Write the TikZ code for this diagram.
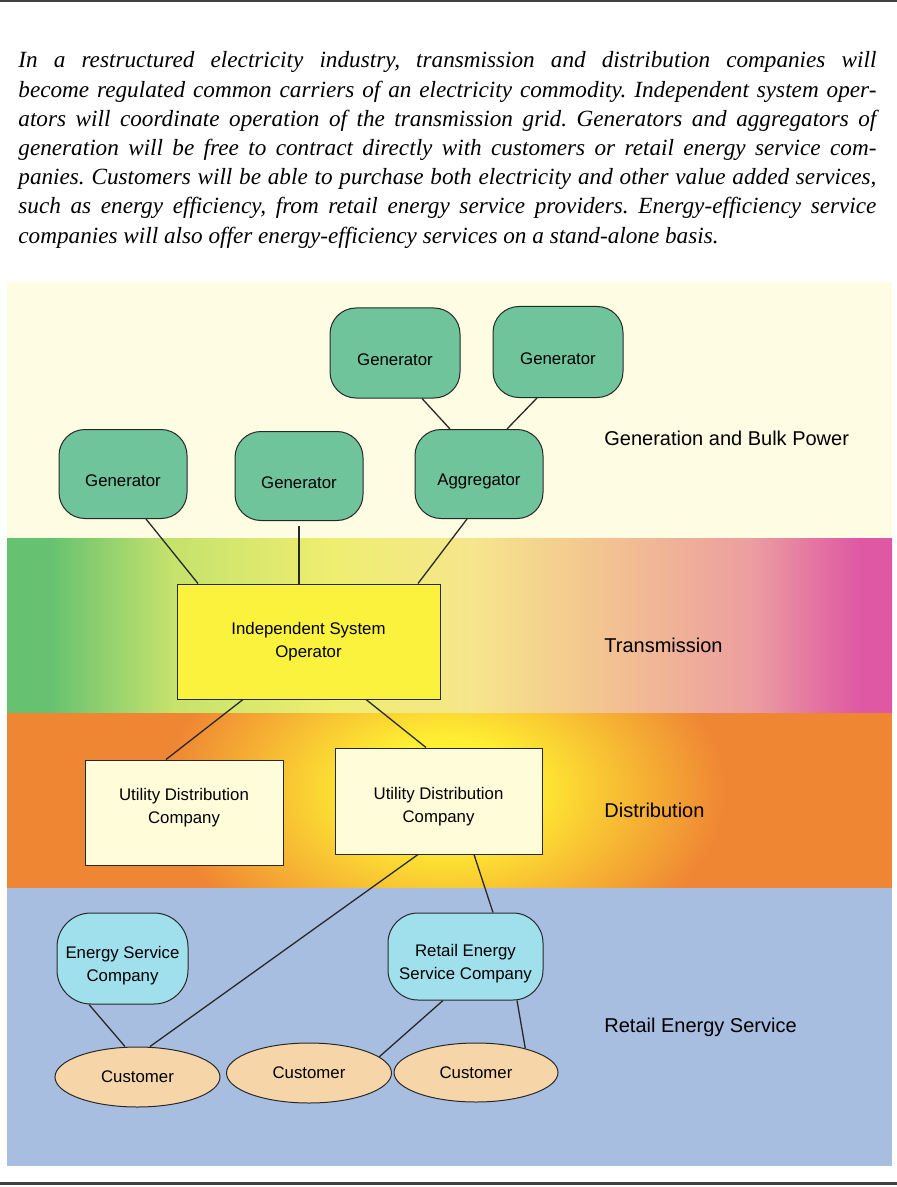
\documentclass[tikz,border=0pt]{standalone}
\usepackage{fontspec}
\setmainfont{Liberation Serif}
\setsansfont{Liberation Sans}
\usetikzlibrary{shapes.geometric,calc}

% colours of the bands and boxes
\definecolor{genband}{RGB}{254,252,226}
\definecolor{retailblue}{RGB}{168,190,224}
\definecolor{distorange}{RGB}{239,134,52}
\definecolor{distyellow}{RGB}{255,240,50}
\definecolor{tgreen}{RGB}{102,194,112}
\definecolor{tlime}{RGB}{196,226,108}
\definecolor{tyellow}{RGB}{238,238,112}
\definecolor{tpale}{RGB}{246,230,140}
\definecolor{tpeach}{RGB}{243,196,144}
\definecolor{tpink}{RGB}{236,158,160}
\definecolor{tmag}{RGB}{222,88,164}
\definecolor{gengreen}{RGB}{112,196,156}
\definecolor{isoyellow}{RGB}{250,242,60}
\definecolor{udccream}{RGB}{255,252,218}
\definecolor{servcyan}{RGB}{160,224,236}
\definecolor{custpeach}{RGB}{246,214,168}
\definecolor{nodeline}{RGB}{40,40,40}

\pgfdeclarehorizontalshading{transshade}{100bp}{color(0bp)=(tgreen); color(27.4bp)=(tgreen);
  color(34.2bp)=(tlime); color(43.3bp)=(tyellow); color(51.2bp)=(tpale); color(58.5bp)=(tpeach);
  color(67bp)=(tpink); color(73.2bp)=(tmag); color(100bp)=(tmag)}
\pgfdeclareradialshading{glowshade}{\pgfpoint{0bp}{0bp}}{color(0bp)=(distyellow); color(7bp)=(distyellow);
  color(25bp)=(distorange); color(50bp)=(distorange)}

\newcommand\diagfont{\sffamily\fontsize{8.4}{11.5}\selectfont}
\newcommand\bandfont{\sffamily\fontsize{10}{12}\selectfont}
\newcommand\parafont{\itshape\fontsize{11.6}{14.6}\selectfont}

\tikzset{
  gennode/.style={draw=nodeline, line width=0.5pt, fill=gengreen, rounded corners=13pt,
    minimum width=64pt, minimum height=44.5pt, inner sep=0pt, font=\diagfont,
    execute at begin node=\rule{0pt}{13pt}},
  plainbox/.style={draw=nodeline, line width=0.5pt, align=center, inner sep=0pt, font=\diagfont},
  servnode/.style={draw=nodeline, line width=0.5pt, fill=servcyan, align=center, inner sep=0pt, font=\diagfont},
  custnode/.style={ellipse, draw=nodeline, line width=0.5pt, fill=custpeach, minimum width=82.5pt,
    minimum height=30pt, inner sep=0pt, font=\diagfont},
  bandlabel/.style={anchor=west, inner sep=0pt, font=\bandfont},
  paraline/.style={anchor=base west, inner sep=0pt, font=\parafont},
  link/.style={draw=nodeline, line width=0.65pt}
}

\begin{document}
\frenchspacing
\begin{tikzpicture}[x=0.5pt,y=-0.5pt]
\useasboundingbox (0,0) rectangle (897,1187);
\fill[white] (0,0) rectangle (897,1187);
\draw[line width=1.5pt, black!75] (0,1) -- (897,1);
\draw[line width=1.5pt, black!75] (0,1183) -- (897,1183);

% text above the diagram
\foreach \txt [count=\i from 0] in {
  {In a restructured electricity industry, transmission and distribution companies will},
  {become regulated common carriers of an electricity commodity. Independent system oper-},
  {ators will coordinate operation of the transmission grid. Generators and aggregators of},
  {generation will be free to contract directly with customers or retail energy service com-},
  {panies. Customers will be able to purchase both electricity and other value added services,},
  {such as energy efficiency, from retail energy service providers. Energy-efficiency service}}
  \node[paraline] (line\i) at (18,{68+29.2*\i}) {\makebox[429pt][s]{\txt}};
\node[paraline] (line6) at (18,{68+29.2*6}) {companies will also offer energy-efficiency services on a stand-alone basis.};

% bands
\fill[genband] (7,282) rectangle (892,538);
\shade[shading=transshade] (7,538) rectangle (892,713);
\fill[distorange] (7,713) rectangle (892,888);
\begin{scope}
  \clip (7,713) rectangle (892,888);
  \shade[shading=glowshade] (445,790) ellipse [x radius=140pt, y radius=90pt];
\end{scope}
\fill[retailblue] (7,888) rectangle (892,1166);

\node[bandlabel] (genlab) at (604,438) {Generation and Bulk Power};
\node[bandlabel] (translab) at (604,645) {Transmission};
\node[bandlabel] (distlab) at (604,810) {Distribution};
\node[bandlabel] (retlab) at (604,1027) {Retail Energy Service};

% generation
\node[gennode, minimum width=65pt, minimum height=45pt] (gentl) at (395,353) {Generator};
\node[gennode, minimum width=65pt, minimum height=45.5pt] (gentr) at (558,352) {Generator};
\node[gennode] (genl) at (123,474) {Generator};
\node[gennode] (genm) at (299,476) {Generator};
\node[gennode] (agg) at (479,474) {Aggregator};

% transmission and distribution
\node[plainbox, fill=isoyellow, minimum width=131.5pt, minimum height=57.5pt] (iso) at (308.5,641.5)
  {Independent System\\Operator};
\node[plainbox, fill=udccream, minimum width=99pt, minimum height=52.5pt] (udcl) at (184,812.5)
  {Utility Distribution\\Company\rule[-6.8pt]{0pt}{0pt}};
\node[plainbox, fill=udccream, minimum width=103.5pt, minimum height=53pt] (udcr) at (438.5,801)
  {\rule{0pt}{12.2pt}Utility Distribution\\Company};

% retail
\node[servnode, rounded corners=17pt, minimum width=65.5pt, minimum height=45.5pt] (esc) at (122.5,958.5)
  {\rule{0pt}{13.7pt}Energy Service\\Company};
\node[servnode, rounded corners=15pt, minimum width=77.5pt, minimum height=43.5pt] (resc) at (465.5,956.5)
  {\rule{0pt}{13.7pt}Retail Energy\\Service Company};
\node[custnode] (custl) at (137.5,1077) {Customer};
\node[custnode] (custm) at (309,1073) {Customer};
\node[custnode, minimum width=82pt, minimum height=29.5pt] (custr) at (476,1072.5) {Customer};

% connections
\draw[link] ([xshift=13.5pt]gentl.south) -- ([xshift=-14.5pt]agg.north);
\draw[link] ([xshift=-10.5pt]gentr.south) -- ([xshift=14pt]agg.north);
\draw[link] ([xshift=11.5pt]genl.south) -- ([xshift=-55.25pt]iso.north);
\draw[link] ([yshift=-2.5pt]genm.south) -- (genm.south |- iso.north);
\draw[link] ([xshift=-6pt]agg.south) -- ([xshift=54.75pt]iso.north);
\draw[link] ([xshift=-32.75pt]iso.south) -- ([xshift=-9pt]udcl.north);
\draw[link] ([xshift=28.75pt]iso.south) -- ([xshift=-6.25pt]udcr.north);
\draw[link] ([xshift=-10.25pt]udcr.south) -- ([xshift=6.25pt]custl.north);
\draw[link] ([xshift=17.75pt]udcr.south) -- ([xshift=13.75pt]resc.north);
\draw[link] ([xshift=-16.75pt]esc.south) -- ([xshift=-6.25pt]custl.north);
\draw[link] ([xshift=-11.25pt]resc.south) -- (custm.13);
\draw[link] ([xshift=25.75pt]resc.south) -- (custr.26);
\end{tikzpicture}
\end{document}
